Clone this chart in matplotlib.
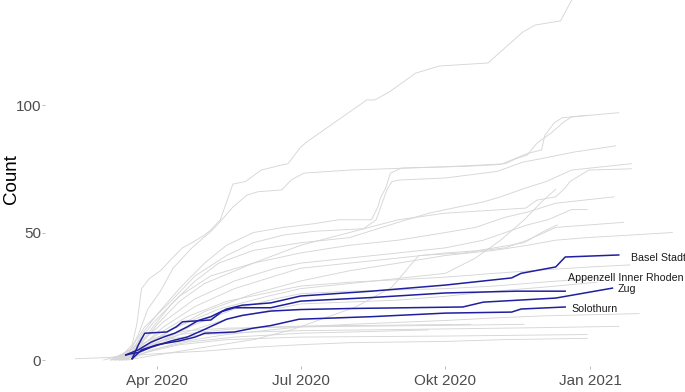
import matplotlib.pyplot as plt
import pandas as pd

plt.rcParams['font.family'] = ['Liberation Sans', 'DejaVu Sans']

# grey lines: the other cantons, cumulative counts
g01_d = ['2020-02-27', '2020-03-10', '2020-03-16', '2020-03-19', '2020-03-22', '2020-03-27', '2020-04-03',
         '2020-04-09', '2020-04-17', '2020-04-23', '2020-04-30', '2020-05-05', '2020-05-11', '2020-05-19',
         '2020-05-27', '2020-06-06', '2020-06-19', '2020-06-23', '2020-07-01', '2020-07-06', '2020-08-12',
         '2020-08-17', '2020-08-26', '2020-09-12', '2020-09-27', '2020-10-28', '2020-11-19', '2020-11-27',
         '2020-12-13', '2020-12-20', '2021-01-05']
g01_v = [0, 2, 6, 14, 28, 32, 35, 39, 44, 46, 48.6, 51, 55, 69, 70, 74.5, 76.5, 77, 83.5, 86, 102, 102, 105,
         112.5, 115.3, 116.5, 128.6, 131.4, 133, 141, 152]

g02_d = ['2020-03-03', '2020-03-14', '2020-03-20', '2020-03-26', '2020-04-03', '2020-04-11', '2020-04-23',
         '2020-05-06', '2020-05-13', '2020-05-19', '2020-05-28', '2020-06-04', '2020-06-19', '2020-06-25',
         '2020-07-03', '2020-08-01', '2020-10-01', '2020-10-25', '2020-11-08', '2020-11-15', '2020-11-22',
         '2020-11-28', '2020-12-07', '2020-12-15', '2020-12-20', '2021-01-01', '2021-01-19']
g02_v = [0, 3, 10, 20, 27, 36, 44, 51, 55.7, 60, 64.7, 66, 66.7, 70.6, 73.3, 74.5, 75.8, 76.5, 77, 79, 80.4,
         85, 89, 93.3, 95.3, 96, 97]

g03_d = ['2020-03-05', '2020-03-16', '2020-03-22', '2020-04-01', '2020-04-15', '2020-05-01', '2020-05-15',
         '2020-06-01', '2020-06-20', '2020-07-10', '2020-07-25', '2020-08-15', '2020-08-19', '2020-08-21',
         '2020-08-24', '2020-08-27', '2020-09-03', '2020-10-15', '2020-11-05', '2020-11-22', '2020-12-01',
         '2020-12-03', '2020-12-09', '2020-12-14', '2020-12-30']
g03_v = [0, 3, 10, 18, 28, 38, 45, 50, 52, 53.5, 55, 55, 60, 64, 67.4, 73.3, 75.3, 76, 76.7, 81, 82.4, 88,
         93, 95, 96]

g04_d = ['2020-03-02', '2020-03-15', '2020-03-24', '2020-04-08', '2020-04-25', '2020-05-15', '2020-06-01',
         '2020-06-20', '2020-07-10', '2020-08-10', '2020-08-18', '2020-08-22', '2020-08-25', '2020-08-28',
         '2020-09-02', '2020-10-01', '2020-11-03', '2020-11-19', '2020-12-01', '2020-12-22', '2021-01-17']
g04_v = [0, 4, 13, 22, 33, 41, 46, 49, 50.5, 51.5, 55, 62, 67, 70, 70.6, 71.4, 74, 77.6, 79, 81.6, 84]

g05_d = ['2020-03-06', '2020-03-18', '2020-03-28', '2020-04-10', '2020-04-25', '2020-05-10', '2020-06-01',
         '2020-07-01', '2020-08-01', '2020-09-01', '2020-09-20', '2020-10-01', '2020-10-25', '2020-11-05',
         '2020-11-21', '2020-12-04', '2020-12-20', '2021-01-27']
g05_v = [0, 4, 12, 22, 31, 38, 43, 46, 48, 54, 57.5, 59, 62, 64, 67.5, 70, 74.5, 77]

g06_d = ['2020-03-08', '2020-03-20', '2020-04-01', '2020-04-15', '2020-05-01', '2020-06-01', '2020-07-01',
         '2020-08-01', '2020-09-01', '2020-10-01', '2020-11-01', '2020-11-21', '2020-11-28', '2020-12-10',
         '2020-12-16', '2020-12-19', '2020-12-31', '2021-01-27']
g06_v = [0, 5, 14, 23, 30, 38, 45, 50, 55, 57.6, 58.8, 59.6, 62.7, 64, 67.5, 70, 74.5, 75]

g07_d = ['2020-03-04', '2020-03-17', '2020-03-30', '2020-04-15', '2020-05-05', '2020-06-01', '2020-07-01',
         '2020-08-01', '2020-09-01', '2020-10-01', '2020-10-20', '2020-11-08', '2020-11-22', '2020-12-10',
         '2021-01-16']
g07_v = [0, 5, 15, 25, 33, 38, 42, 45, 47, 50, 52, 56, 58, 61.5, 64]

g08_d = ['2020-03-07', '2020-03-20', '2020-04-05', '2020-04-25', '2020-05-20', '2020-06-15', '2020-07-01',
         '2020-08-01', '2020-09-01', '2020-10-01', '2020-10-25', '2020-11-08', '2020-11-22', '2020-12-05',
         '2020-12-20', '2020-12-30']
g08_v = [0, 6, 15, 24, 31, 36, 38, 40, 42, 44, 47, 50, 53, 55, 59, 59]

g09_d = ['2020-03-09', '2020-03-21', '2020-04-05', '2020-04-25', '2020-05-20', '2020-06-15', '2020-07-01',
         '2020-08-01', '2020-09-01', '2020-10-01', '2020-10-25', '2020-11-08', '2020-11-22', '2020-12-10',
         '2021-01-22']
g09_v = [0, 5, 13, 21, 28, 33, 36, 38, 40, 42, 43, 44, 47, 52, 54]

g10_d = ['2020-03-10', '2020-03-22', '2020-04-08', '2020-05-01', '2020-06-01', '2020-07-01', '2020-08-01',
         '2020-09-01', '2020-10-01', '2020-11-01', '2020-11-22', '2020-12-10', '2020-12-30', '2021-02-22']
g10_v = [0, 4, 11, 19, 26, 31, 35, 38, 41, 43, 45, 47, 48, 50]

g11_d = ['2020-03-12', '2020-04-01', '2020-05-01', '2020-06-01', '2020-06-25', '2020-08-05', '2020-08-28',
         '2020-09-14', '2020-10-13', '2020-11-01', '2020-11-20', '2020-12-01', '2020-12-11']
g11_v = [0, 2, 5, 8, 11.8, 20.8, 28.6, 41, 42, 44, 46, 50, 53]

g12_d = ['2020-03-08', '2020-03-22', '2020-04-10', '2020-05-10', '2020-06-10', '2020-07-01', '2020-08-01',
         '2020-09-01', '2020-10-01', '2020-10-20', '2020-11-05', '2020-11-20', '2020-12-01', '2020-12-10']
g12_v = [0, 5, 12, 20, 25, 28, 30, 32, 34, 40, 47, 55, 62, 67]

g13_d = ['2020-03-06', '2020-03-18', '2020-04-01', '2020-04-20', '2020-05-15', '2020-06-15', '2020-07-01',
         '2020-08-01', '2020-10-01', '2020-11-01', '2020-12-01', '2021-01-01', '2021-01-26']
g13_v = [0, 4, 10, 17, 23, 27, 29, 30.5, 32.5, 34, 35.3, 36.5, 37.3]

g14_d = ['2020-03-09', '2020-03-21', '2020-04-05', '2020-04-25', '2020-05-20', '2020-06-15', '2020-07-01',
         '2020-08-01', '2020-10-01', '2020-11-01', '2020-12-01', '2021-01-13']
g14_v = [0, 3, 8, 14, 20, 24, 26, 27, 28, 29, 30.5, 32.5]

g15_d = ['2020-03-11', '2020-03-25', '2020-04-15', '2020-05-15', '2020-06-15', '2020-07-01', '2020-09-01',
         '2020-10-01', '2020-11-01', '2020-12-01', '2021-01-05']
g15_v = [0, 4, 10, 16, 20, 22, 23.5, 25, 27, 28.5, 30.5]

g16_d = ['2020-03-10', '2020-03-25', '2020-04-15', '2020-05-15', '2020-06-15', '2020-07-01', '2020-08-01',
         '2020-10-01', '2020-11-01', '2020-12-01', '2021-02-01']
g16_v = [0, 3, 7, 10, 12, 13, 14, 15.5, 16.5, 17.3, 18.2]

g17_d = ['2020-03-05', '2020-03-20', '2020-04-05', '2020-05-01', '2020-06-01', '2020-07-01', '2020-10-01',
         '2020-12-01', '2021-01-19']
g17_v = [0, 4, 8, 10, 11, 11.5, 12.2, 12.7, 13.2]

g18_d = ['2020-03-08', '2020-03-25', '2020-04-15', '2020-05-15', '2020-07-01', '2020-10-01', '2020-12-30']
g18_v = [0, 3, 6, 8, 9, 9.4, 10]

g19_d = ['2020-03-03', '2020-03-17', '2020-04-01', '2020-04-20', '2020-05-15', '2020-07-01', '2020-10-01',
         '2020-11-20']
g19_v = [0, 5, 9, 11.5, 12.5, 13, 13.6, 14]

g20_d = ['2020-03-12', '2020-03-28', '2020-04-15', '2020-05-15', '2020-06-15', '2020-07-01', '2020-10-17']
g20_v = [0, 6, 10, 12, 13, 13.3, 14]

g21_d = ['2020-02-09', '2020-03-01', '2020-04-01', '2020-05-01', '2020-06-01', '2020-07-01', '2020-08-01',
         '2020-10-01', '2020-11-08', '2020-12-30']
g21_v = [0.5, 1, 2.5, 3.5, 5, 6, 6.8, 7.3, 8, 8.5]

g22_d = ['2020-03-14', '2020-03-28', '2020-04-20', '2020-05-20', '2020-07-01', '2020-08-15', '2020-09-20']
g22_v = [0, 4, 7, 9, 10.5, 11.2, 11.8]

# highlighted cantons
basel_d = ['2020-03-12', '2020-03-20', '2020-03-28', '2020-04-05', '2020-04-12', '2020-04-20', '2020-04-27',
           '2020-05-05', '2020-05-15', '2020-05-25', '2020-06-12', '2020-07-01', '2020-08-15', '2020-10-01',
           '2020-11-12', '2020-11-18', '2020-12-10', '2020-12-16', '2021-01-19']
basel_v = [2, 4, 7, 9, 10.5, 13, 15.5, 17, 20, 21.5, 22.4, 25.1, 27, 29.4, 32.2, 34, 36.5, 40.4, 41.2]

appenzell_d = ['2020-03-16', '2020-03-20', '2020-03-24', '2020-04-07', '2020-04-13', '2020-04-17', '2020-05-05',
               '2020-05-12', '2020-05-20', '2020-06-12', '2020-07-01', '2020-08-15', '2020-10-01', '2020-11-15',
               '2020-12-16']
appenzell_v = [0.5, 6, 10.5, 11, 13, 15, 15.7, 19, 20.5, 20.5, 23.1, 24.5, 26.3, 27, 27]

zug_d = ['2020-03-12', '2020-03-20', '2020-03-28', '2020-04-10', '2020-04-20', '2020-05-01', '2020-05-08',
         '2020-05-15', '2020-05-25', '2020-06-12', '2020-07-01', '2020-08-01', '2020-10-12', '2020-10-25',
         '2020-12-10', '2021-01-15']
zug_v = [2, 3, 5, 7.5, 9, 12, 14, 16, 17.5, 19.2, 19.8, 20.2, 20.8, 22.7, 24.3, 28.2]

solothurn_d = ['2020-03-16', '2020-03-22', '2020-04-01', '2020-04-15', '2020-04-25', '2020-05-01', '2020-05-20',
               '2020-06-01', '2020-06-12', '2020-06-30', '2020-08-15', '2020-10-01', '2020-11-12', '2020-11-18',
               '2020-12-16']
solothurn_v = [0.5, 4, 6, 7.5, 9, 10.5, 11, 12.5, 13.5, 16, 17, 18.4, 18.8, 20, 20.8]

label_names = ['Basel Stadt', 'Appenzell Inner Rhoden', 'Zug', 'Solothurn']
label_dates = ['2021-01-27', '2020-12-18', '2021-01-18', '2020-12-20']
label_vals = [40, 32.2, 27.8, 20.0]

tick_dates = ['2020-04-01', '2020-07-01', '2020-10-01', '2021-01-01']
tick_labels = ['Apr 2020', 'Jul 2020', 'Okt 2020', 'Jan 2021']

grey = [(g01_d, g01_v), (g02_d, g02_v), (g03_d, g03_v), (g04_d, g04_v), (g05_d, g05_v), (g06_d, g06_v),
        (g07_d, g07_v), (g08_d, g08_v), (g09_d, g09_v), (g10_d, g10_v), (g11_d, g11_v), (g12_d, g12_v),
        (g13_d, g13_v), (g14_d, g14_v), (g15_d, g15_v), (g16_d, g16_v), (g17_d, g17_v), (g18_d, g18_v),
        (g19_d, g19_v), (g20_d, g20_v), (g21_d, g21_v), (g22_d, g22_v)]
blue = [(basel_d, basel_v), (appenzell_d, appenzell_v), (zug_d, zug_v), (solothurn_d, solothurn_v)]

fig = plt.figure(figsize=(6.85, 3.92), dpi=100)
ax = fig.add_axes([0.0664, 0.0663, 0.9564, 0.9337])

for d, v in grey:
    ax.plot(pd.to_datetime(d), v, color='#d6d6d6', lw=0.65, zorder=1)
for d, v in blue:
    ax.plot(pd.to_datetime(d), v, color='#1f1fa0', lw=1.1, zorder=3)

for name, d, v in zip(label_names, label_dates, label_vals):
    ax.text(pd.Timestamp(d), v, name, fontsize=7.7, color='#1a1a1a', va='center', ha='left', zorder=4)

ax.set_xlim(pd.Timestamp('2020-01-21'), pd.Timestamp('2021-03-12'))
ax.set_ylim(-2.35, 141.2)
ax.set_xticks(pd.to_datetime(tick_dates))
ax.set_xticklabels(tick_labels)
ax.set_yticks([0, 50, 100])
ax.tick_params(axis='both', labelsize=11, labelcolor='#4d4d4d', color='#b0b0b0', length=2.5, width=0.6)
ax.tick_params(axis='x', pad=3)
ax.tick_params(axis='y', pad=0.5)
for s in ax.spines.values():
    s.set_visible(False)
ax.set_ylabel('Count', fontsize=13.5)
ax.yaxis.set_label_coords(-0.039, 0.51)

fig.savefig('out.png', dpi=100)
